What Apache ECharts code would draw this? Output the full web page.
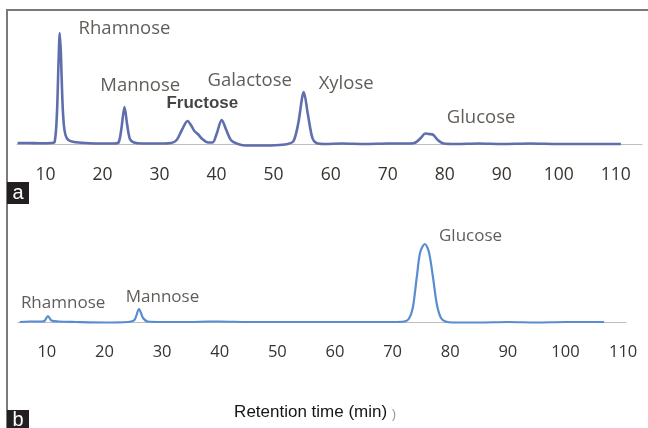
<!DOCTYPE html>
<html>
<head>
<meta charset="utf-8">
<script src="https://cdn.jsdelivr.net/npm/echarts@6/dist/echarts.min.js"></script>
<style>
    html, body { margin: 0; padding: 0; background: #fff; }
    #chart { width: 648px; height: 428px; }
</style>
</head>
<body>
<div id="chart"></div>
<script>
// chromatogram a : [retention time (min), detector signal]
var traceA = [
    [5.1, 1], [7, 1], [9, 0.8], [11, 1], [11.6, 2], [12.0, 30], [12.3, 85], [12.5, 111],
    [12.7, 90], [12.95, 45], [13.2, 20], [13.5, 9], [14, 4], [15, 2], [17, 1], [20, 0.5],
    [22, 0.5], [22.8, 1.5], [23.3, 15], [23.85, 37], [24.3, 20], [24.8, 5], [25.5, 1.5],
    [27, 0.5], [30, 0.5], [32, 1], [33, 4], [34, 15], [34.9, 23], [35.6, 18], [36.1, 13],
    [36.7, 10], [37.5, 5], [38.5, 1.5], [39.3, 1.5], [40.0, 10], [40.9, 24], [41.7, 14],
    [42.5, 4], [43.5, 0.5], [45, -1.5], [48, -1.5], [51, -1], [52.5, 0], [53.5, 3],
    [54.3, 20], [55.3, 52], [56.0, 30], [56.8, 6], [57.5, 1], [59, 0], [62, 0.5], [66, 0],
    [70, 0.5], [74, 0.5], [74.9, 1.5], [75.8, 6], [76.6, 10.5], [77.2, 10], [77.9, 9.5],
    [78.8, 4], [79.8, 0.5], [82, 0], [86, 0.5], [90, 0], [95, 0.5], [100, 0], [105, 0], [110.9, 0]
];

// chromatogram b
var traceB = [
    [5.3, 0], [7, 0.5], [9, 0.5], [9.6, 1], [10.2, 6], [10.8, 1.5], [12, 0.5], [15, 0],
    [20, -0.5], [24, 0], [25.2, 2], [26.0, 13], [26.7, 4], [27.5, 0.5], [30, 0], [35, 0],
    [38, 0.5], [40, 0.5], [45, 0], [50, 0], [55, 0], [60, 0], [65, 0], [70, 0], [72, 0.5],
    [72.8, 3], [73.5, 14], [74.2, 45], [74.8, 70], [75.6, 78], [76.3, 70], [77.0, 45],
    [77.7, 17], [78.4, 4], [79.2, 0.5], [80.5, -0.5], [85, -0.5], [90, 0], [95, -0.5],
    [100, 0], [106.7, 0]
];

var tickValues = [10, 20, 30, 40, 50, 60, 70, 80, 90, 100, 110];

// peak names and where their labels sit (time, signal)
var peakNamesA = ['Rhamnose', 'Mannose', 'Fructose', 'Galactose', 'Xylose', 'Glucose'];
var peakLabelA = [[15.8, 115], [19.6, 58], [31.2, 41], [38.4, 63], [57.9, 60], [80.35, 26]];
var peakNamesB = ['Rhamnose', 'Mannose', 'Glucose'];
var peakLabelB = [[5.5, 19], [23.7, 25], [78.05, 86]];

var xTitle = 'Retention time (min) {p|)}';

var dom = document.getElementById('chart');
var myChart = echarts.init(dom);

function labelData(names, pos) {
    return names.map(function (n, i) {
        return { name: n, value: pos[i] };
    });
}

var labelDataA = labelData(peakNamesA, peakLabelA);
// Fructose is printed darker/bolder in the figure
labelDataA[2].label = { color: '#151515', fontFamily: 'Liberation Sans', fontWeight: 'bold', fontSize: 17 };

var fontMain = '"Open Sans", sans-serif';
var textCol = '#38332e';

var option = {
    animation: false,
    backgroundColor: '#fff',
    grid: [
        { left: 17, right: 6, top: 20, bottom: 281 },
        { left: 18, right: 22, top: 222, bottom: 103 }
    ],
    xAxis: [
        {
            gridIndex: 0, type: 'value', min: 5, max: 114.6,
            axisLine: { onZero: true, lineStyle: { color: '#bdbdbd', width: 1 } },
            axisTick: { show: false },
            splitLine: { show: false },
            axisLabel: {
                customValues: tickValues, margin: 19,
                color: textCol, fontFamily: fontMain, fontSize: 17.5
            }
        },
        {
            gridIndex: 1, type: 'value', min: 5, max: 110.5,
            axisLine: { onZero: true, lineStyle: { color: '#bdbdbd', width: 1 } },
            axisTick: { show: false },
            splitLine: { show: false },
            axisLabel: {
                customValues: tickValues, margin: 19,
                color: textCol, fontFamily: fontMain, fontSize: 16.5
            },
            name: xTitle,
            nameLocation: 'middle',
            nameGap: 78,
            nameTextStyle: {
                color: '#151515', fontFamily: 'Liberation Sans', fontSize: 17,
                padding: [0, 14, 0, 0],
                rich: {
                    p: { color: '#9a8f88', fontFamily: 'Liberation Sans', fontSize: 12, padding: [6, 0, 0, 0] }
                }
            }
        }
    ],
    yAxis: [
        { gridIndex: 0, type: 'value', min: -3, max: 124, show: false },
        { gridIndex: 1, type: 'value', min: -3, max: 100, show: false }
    ],
    series: [
        {
            type: 'line', xAxisIndex: 0, yAxisIndex: 0,
            data: traceA, smooth: 0.3, showSymbol: false,
            lineStyle: { color: '#5f6eac', width: 2.6 }
        },
        {
            type: 'line', xAxisIndex: 1, yAxisIndex: 1,
            data: traceB, smooth: 0.3, showSymbol: false,
            lineStyle: { color: '#5a8cd2', width: 2.2 }
        },
        {
            type: 'scatter', xAxisIndex: 0, yAxisIndex: 0,
            symbolSize: 0, silent: true,
            data: labelDataA,
            label: {
                show: true, position: 'right', distance: 0,
                formatter: '{b}', color: textCol, fontFamily: fontMain, fontSize: 18.5
            }
        },
        {
            type: 'scatter', xAxisIndex: 1, yAxisIndex: 1,
            symbolSize: 0, silent: true,
            data: labelData(peakNamesB, peakLabelB),
            label: {
                show: true, position: 'right', distance: 0,
                formatter: '{b}', color: textCol, fontFamily: fontMain, fontSize: 17
            }
        }
    ],
    graphic: [
        {
            type: 'polyline',
            shape: { points: [[7, 428], [7, 10], [648, 10]] },
            style: { stroke: '#7a7a7a', lineWidth: 2, fill: null }
        },
        {
            type: 'group', left: 7, top: 182,
            children: [
                { type: 'rect', shape: { width: 22, height: 22 }, style: { fill: '#231f20' } },
                { type: 'text', x: 11, y: 11, style: { text: 'a', fill: '#fff', font: '20px "Liberation Sans"', align: 'center', verticalAlign: 'middle' } }
            ]
        },
        {
            type: 'group', left: 7, top: 410,
            children: [
                { type: 'rect', shape: { width: 22, height: 22 }, style: { fill: '#231f20' } },
                { type: 'text', x: 11, y: 10, style: { text: 'b', fill: '#fff', font: '20px "Liberation Sans"', align: 'center', verticalAlign: 'middle' } }
            ]
        }
    ]
};

if (option && typeof option === 'object') {
    myChart.setOption(option);
}
</script>
</body>
</html>
